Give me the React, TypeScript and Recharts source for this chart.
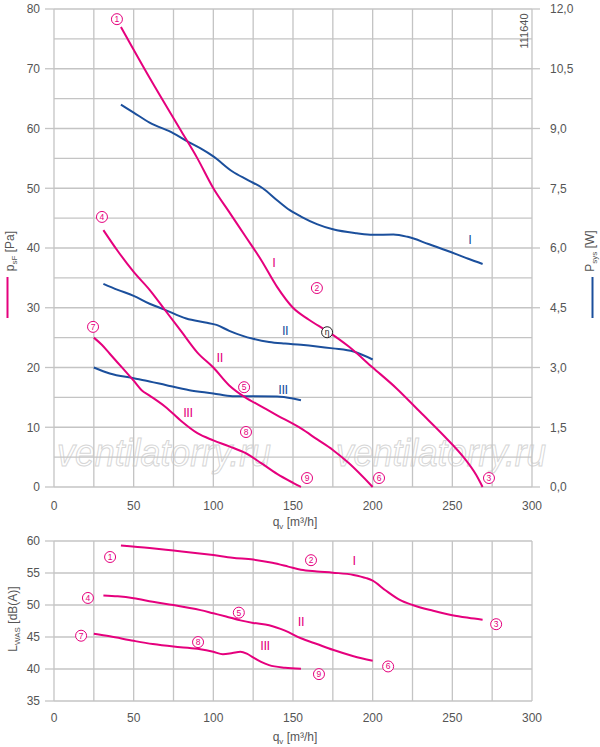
import React from 'react';
import { ComposedChart, Line, XAxis, YAxis, CartesianGrid, ReferenceDot } from 'recharts';

const MAG = '#e5007d';
const BLUE = '#1b4f9c';
const GRID = '#c4c4c4';
const TXT = '#555';
const FONT = '"Liberation Sans", Arial, sans-serif';

const flowTicks = [0, 50, 100, 150, 200, 250, 300];
const flowGrid = [0, 25, 50, 75, 100, 125, 150, 175, 200, 225, 250, 275, 300];
const pressureTicks = [0, 10, 20, 30, 40, 50, 60, 70, 80];
const pressureGrid = [0, 5, 10, 15, 20, 25, 30, 35, 40, 45, 50, 55, 60, 65, 70, 75, 80];
const powerTicks = [0, 1.5, 3, 4.5, 6, 7.5, 9, 10.5, 12];
const soundTicks = [35, 40, 45, 50, 55, 60];

// pressure p_sF [Pa] vs q_v, speeds I / II / III
const pressI = [[42, 77], [60, 68.5], [80, 59.5], [90, 55], [100, 50], [110, 46], [120, 42], [130, 38], [140, 33.5], [150, 30], [160, 28], [172, 26], [185, 23.5], [200, 20], [215, 16.5], [230, 12.5], [245, 8.5], [257, 5], [265, 2], [269, 0]];
const pressII = [[31, 43], [40, 39.5], [50, 36], [60, 33], [70, 29.5], [80, 26], [90, 22.5], [100, 20], [110, 17], [120, 15], [130, 13.5], [140, 12], [155, 9.8], [165, 8], [175, 6.2], [185, 4], [200, 0]];
const pressIII = [[25, 25], [30, 23.8], [35, 22.3], [40, 20.8], [45, 19.3], [50, 17.8], [55, 16.2], [60, 15.3], [70, 13.4], [80, 11], [90, 9], [100, 7.8], [110, 6.8], [120, 5.7], [130, 4], [140, 2.2], [150, 0.7], [155, 0]];

// power P_sys [W]
const powerI = [[42, 9.6], [50, 9.4], [60, 9.15], [75, 8.88], [84, 8.67], [92, 8.5], [100, 8.3], [112, 7.92], [122, 7.7], [131, 7.5], [140, 7.2], [148, 6.95], [155, 6.79], [165, 6.6], [175, 6.47], [190, 6.37], [200, 6.33], [213, 6.34], [222, 6.28], [235, 6.1], [249, 5.9], [260, 5.73], [269, 5.6]];
const powerII = [[31, 5.1], [40, 4.95], [50, 4.8], [60, 4.6], [69, 4.46], [83, 4.23], [95, 4.13], [102, 4.07], [110, 3.92], [118, 3.8], [125, 3.72], [135, 3.64], [145, 3.6], [155, 3.57], [165, 3.53], [175, 3.48], [188, 3.4], [200, 3.2]];
const powerIII = [[25, 3.0], [35, 2.85], [50, 2.73], [60, 2.65], [70, 2.56], [85, 2.43], [100, 2.35], [112, 2.28], [125, 2.28], [140, 2.27], [150, 2.22], [155, 2.18]];

// sound L_WAS [dB(A)]
const soundI = [[42, 59.3], [60, 58.9], [75, 58.5], [90, 58.1], [100, 57.8], [112, 57.4], [125, 57.1], [137, 56.6], [147, 56], [155, 55.5], [165, 55.25], [175, 55.05], [188, 54.7], [196, 54.2], [200, 53.8], [208, 52.3], [217, 50.8], [225, 50], [238, 49.1], [250, 48.4], [260, 48], [269, 47.7]];
const soundII = [[31, 51.5], [40, 51.35], [50, 51.05], [62, 50.5], [75, 50], [92, 49.2], [100, 48.7], [108, 48.2], [117, 47.6], [125, 47.2], [135, 46.85], [145, 46], [155, 44.8], [165, 43.9], [175, 43], [188, 42], [200, 41.3]];
const soundIII = [[25, 45.5], [35, 45.1], [50, 44.4], [62, 43.9], [75, 43.5], [90, 43.15], [100, 42.7], [106, 42.3], [112, 42.5], [117, 42.7], [121, 42.4], [125, 41.8], [130, 41.1], [135, 40.6], [145, 40.2], [155, 40.05]];

// annotation labels: [q, value, text]
const topCircles = [[39.5, 78.3, '1'], [165, 33.3, '2'], [273, 1.5, '3'], [30.1, 45.2, '4'], [119.3, 16.7, '5'], [204, 1.5, '6'], [24.5, 26.8, '7'], [120.5, 9.2, '8'], [158.8, 1.5, '9']];
const topRomanMag = [[138, 37.7, 'I'], [104, 21.8, 'II'], [84, 12.5, 'III']];
const topRomanBlue = [[261, 41.5, 'I'], [145, 26.3, 'II'], [143.7, 16.4, 'III']];
const botCircles = [[35.2, 57.5, '1'], [161.3, 57, '2'], [277.5, 47, '3'], [21.3, 51.1, '4'], [116, 48.8, '5'], [209.7, 40.4, '6'], [17, 45.2, '7'], [90.4, 44.2, '8'], [166.3, 39.2, '9']];
const botRoman = [[188.3, 57, 'I'], [155, 47.5, 'II'], [132.4, 43.8, 'III']];

const pts = (a: number[][]) => a.map(([q, v]) => ({ q, v }));
const comma = (v: number) => v.toFixed(1).replace('.', ',');

const circleShape = (txt: string, color: string) => (p: any) => (
  <g>
    <circle cx={p.cx} cy={p.cy} r={5.5} fill="#fff" stroke={color} strokeWidth={1} />
    <text x={p.cx} y={p.cy + 3} textAnchor="middle" fontSize={8.5} fill={color} fontFamily={FONT}>{txt}</text>
  </g>
);
const textShape = (txt: string, color: string) => (p: any) => (
  <text x={p.cx} y={p.cy + 5} textAnchor="middle" fontSize={13} fill={color} fontFamily={FONT} letterSpacing={-0.5}>{txt}</text>
);

const tickStyle = { fontSize: 12, fill: TXT, fontFamily: FONT };

export default function App() {
  const lineProps = { type: 'monotone' as const, dataKey: 'v', dot: false, strokeWidth: 2, isAnimationActive: false };
  return (
    <div style={{ position: 'absolute', left: 0, top: 0, width: 600, height: 747, background: '#fff' }}>
      <svg width={600} height={747} style={{ position: 'absolute', left: 0, top: 0 }} fontFamily={FONT}>
        <g fill="#fff" stroke="#d6d6d6" strokeWidth={1} fontSize={38} fontStyle="italic">
          <text x={57} y={466} textLength={214} lengthAdjust="spacingAndGlyphs">ventilatorry.ru</text>
          <text x={336} y={466} textLength={210} lengthAdjust="spacingAndGlyphs">ventilatorry.ru</text>
        </g>
      </svg>
      <div style={{ position: 'absolute', left: 0, top: 0 }}>
        <ComposedChart width={600} height={530} margin={{ top: 9, right: 8, bottom: 0, left: 0 }}>
          <CartesianGrid yAxisId="p" stroke={GRID} strokeWidth={1.3} horizontalValues={pressureGrid} verticalValues={flowGrid} />
          <XAxis dataKey="q" type="number" domain={[0, 300]} ticks={flowTicks} axisLine={false} tickLine={false} tickSize={6} tickMargin={8} height={43} tick={tickStyle} />
          <YAxis yAxisId="p" domain={[0, 80]} ticks={pressureTicks} width={54} axisLine={false} tickSize={9} tickMargin={5} tickLine={{ stroke: GRID, strokeWidth: 1.3 }} tick={tickStyle} />
          <YAxis yAxisId="w" orientation="right" domain={[0, 12]} ticks={powerTicks} width={60} axisLine={false} tickSize={8} tickMargin={10} tickLine={{ stroke: GRID, strokeWidth: 1.3 }} tick={{ ...tickStyle, textAnchor: 'start' }} tickFormatter={comma} />
          <Line {...lineProps} yAxisId="w" data={pts(powerI)} stroke={BLUE} />
          <Line {...lineProps} yAxisId="w" data={pts(powerII)} stroke={BLUE} />
          <Line {...lineProps} yAxisId="w" data={pts(powerIII)} stroke={BLUE} />
          <Line {...lineProps} yAxisId="p" data={pts(pressI)} stroke={MAG} />
          <Line {...lineProps} yAxisId="p" data={pts(pressII)} stroke={MAG} />
          <Line {...lineProps} yAxisId="p" data={pts(pressIII)} stroke={MAG} />
          {topCircles.map(([q, v, t]) => (
            <ReferenceDot key={'c' + t} yAxisId="p" x={q as number} y={v as number} shape={circleShape(t as string, MAG)} />
          ))}
          {topRomanMag.map(([q, v, t]) => (
            <ReferenceDot key={'m' + t} yAxisId="p" x={q as number} y={v as number} shape={textShape(t as string, MAG)} />
          ))}
          {topRomanBlue.map(([q, v, t]) => (
            <ReferenceDot key={'b' + t} yAxisId="p" x={q as number} y={v as number} shape={textShape(t as string, BLUE)} />
          ))}
          <ReferenceDot yAxisId="p" x={171.4} y={25.9} shape={circleShape('η', '#222')} />
        </ComposedChart>
      </div>
      <div style={{ position: 'absolute', left: 0, top: 520 }}>
        <ComposedChart width={600} height={227} margin={{ top: 21, right: 68, bottom: 0, left: 0 }}>
          <CartesianGrid stroke={GRID} strokeWidth={1.3} verticalValues={flowGrid} horizontalValues={soundTicks} />
          <XAxis dataKey="q" type="number" domain={[0, 300]} ticks={flowTicks} axisLine={false} tickLine={false} tickSize={6} tickMargin={6} height={46} tick={tickStyle} />
          <YAxis domain={[35, 60]} ticks={soundTicks} width={54} axisLine={false} tickSize={9} tickMargin={5} tickLine={{ stroke: GRID, strokeWidth: 1.3 }} tick={tickStyle} />
          <Line {...lineProps} data={pts(soundI)} stroke={MAG} />
          <Line {...lineProps} data={pts(soundII)} stroke={MAG} />
          <Line {...lineProps} data={pts(soundIII)} stroke={MAG} />
          {botCircles.map(([q, v, t]) => (
            <ReferenceDot key={'c' + t} x={q as number} y={v as number} shape={circleShape(t as string, MAG)} />
          ))}
          {botRoman.map(([q, v, t]) => (
            <ReferenceDot key={'r' + t} x={q as number} y={v as number} shape={textShape(t as string, MAG)} />
          ))}
        </ComposedChart>
      </div>
      <svg width={600} height={747} style={{ position: 'absolute', left: 0, top: 0, pointerEvents: 'none' }} fontFamily={FONT}>
        <text transform="translate(14,251) rotate(-90)" textAnchor="middle" fontSize={12} fill={TXT}>
          p<tspan fontSize={8} dy={3}>sF</tspan><tspan dy={-3}> [Pa]</tspan>
        </text>
        <line x1={7.5} x2={7.5} y1={277} y2={318} stroke={MAG} strokeWidth={2} />
        <text transform="translate(594,251) rotate(-90)" textAnchor="middle" fontSize={12} fill={TXT}>
          P<tspan fontSize={8} dy={3}>sys</tspan><tspan dy={-3}> [W]</tspan>
        </text>
        <line x1={592.5} x2={592.5} y1={277} y2={318} stroke={BLUE} strokeWidth={2} />
        <text transform="translate(528,31) rotate(-90)" textAnchor="middle" fontSize={11} fill={TXT}>111640</text>
        <text x={295} y={526} textAnchor="middle" fontSize={12} fill={TXT}>
          q<tspan fontSize={8} dy={3}>v</tspan><tspan dy={-3}> [m³/h]</tspan>
        </text>
        <text transform="translate(17,619) rotate(-90)" textAnchor="middle" fontSize={12} fill={TXT}>
          L<tspan fontSize={8} dy={3}>WAS</tspan><tspan dy={-3}> [dB(A)]</tspan>
        </text>
        <text x={295} y={741} textAnchor="middle" fontSize={12} fill={TXT}>
          q<tspan fontSize={8} dy={3}>v</tspan><tspan dy={-3}> [m³/h]</tspan>
        </text>
      </svg>
    </div>
  );
}
